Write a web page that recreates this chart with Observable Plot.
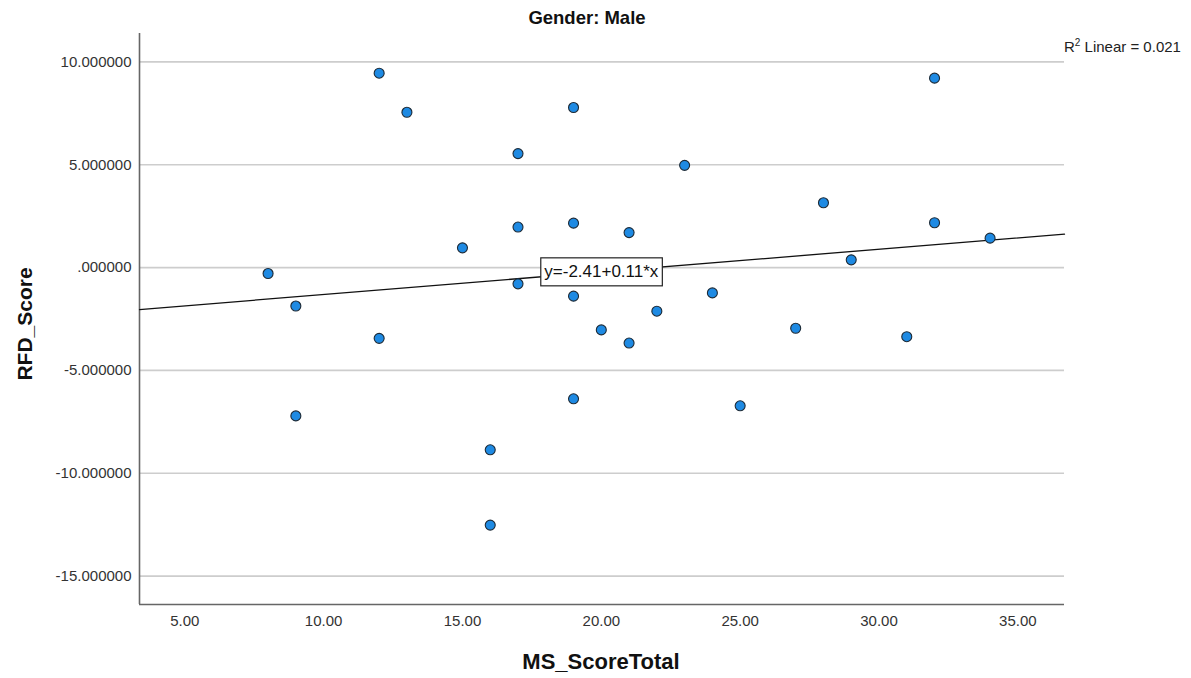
<!DOCTYPE html>
<html>
<head>
<meta charset="utf-8">
<script src="https://cdn.jsdelivr.net/npm/d3@7"></script>
<script src="https://cdn.jsdelivr.net/npm/@observablehq/plot@0.6"></script>
<style>
  body { margin: 0; background: #fff; }
  #chart svg { display: block; }
</style>
</head>
<body>
<div id="chart"></div>
<script>
// ---- Data ----
const msScore  = [8, 9, 9, 12, 12, 13, 15, 16, 16, 17, 17, 17, 19, 19, 19, 19, 20, 21, 21, 22, 23, 24, 25, 27, 28, 29, 31, 32, 32, 34];
const rfdScore = [-0.29, -1.87, -7.21, 9.45, -3.44, 7.55, 0.96, -8.86, -12.52, 5.54, 1.97, -0.79, 7.78, 2.16, -1.39, -6.38, -3.03, 1.70, -3.67, -2.12, 4.97, -1.23, -6.72, -2.95, 3.15, 0.375, -3.36, 9.21, 2.18, 1.43];
const xTicks = [5, 10, 15, 20, 25, 30, 35];
const yTicks = [-15, -10, -5, 0, 5, 10];
const xDomain = [3.37, 36.68];
const yDomain = [-16.38, 11.38];
const fitIntercept = -2.41;
const fitSlope = 0.11;
const fitLabelX = 20;
const r2Value = "0.021";

const points = msScore.map((x, i) => ({x, y: rfdScore[i]}));
const fitLine = xDomain.map(x => ({x, y: fitIntercept + fitSlope * x}));
const fitLabel = [{x: fitLabelX, y: fitIntercept + fitSlope * fitLabelX, text: `y=${fitIntercept}+${fitSlope}*x`}];

const FONT = "'Liberation Sans', Arial, Helvetica, sans-serif";

const chart = Plot.plot({
  width: 1191,
  height: 678,
  marginLeft: 139,
  marginRight: 127,
  marginTop: 33,
  marginBottom: 74,
  style: {fontFamily: FONT, fontSize: "15px", color: "#333", background: "#fff"},
  x: {domain: xDomain, ticks: xTicks, tickFormat: d => d.toFixed(2), tickSize: 0, tickPadding: 11, label: null},
  y: {domain: yDomain, ticks: yTicks, tickFormat: d => d === 0 ? ".000000" : d.toFixed(6), tickSize: 0, tickPadding: 8, label: null},
  marks: [
    Plot.ruleY(yTicks, {stroke: "#cdcdcd", strokeWidth: 1.6}),
    Plot.ruleX([xDomain[0]], {stroke: "#666", strokeWidth: 1.6}),
    Plot.ruleY([yDomain[0]], {stroke: "#666", strokeWidth: 1.6}),
    Plot.line(fitLine, {x: "x", y: "y", stroke: "#111", strokeWidth: 1.3}),
    Plot.dot(points, {x: "x", y: "y", r: 5, fill: "#1e8ae3", stroke: "#1d2a36", strokeWidth: 1.1}),
    Plot.text(fitLabel, {x: "x", y: "y", text: "text", fontSize: 17, fill: "#111"})
  ]
});

document.getElementById("chart").appendChild(chart);

const svg = d3.select(chart);

// white box behind the equation label
svg.selectAll('g[aria-label="text"] text').each(function() {
  const bb = this.getBBox();
  const t = this.getAttribute("transform");
  const r = d3.select(this.parentNode).insert("rect", () => this)
    .attr("x", bb.x - 3.5).attr("y", bb.y - 4.5)
    .attr("width", bb.width + 7).attr("height", bb.height + 9)
    .attr("fill", "#fff").attr("stroke", "#222").attr("stroke-width", 1.2);
  if (t) r.attr("transform", t);
});

// Title
svg.append("text")
  .attr("x", 587).attr("y", 24)
  .attr("text-anchor", "middle")
  .attr("font-family", FONT).attr("font-size", 18.5).attr("font-weight", "bold").attr("fill", "#111")
  .text("Gender: Male");

// R² label
const r2 = svg.append("text")
  .attr("x", 1064).attr("y", 52)
  .attr("text-anchor", "start")
  .attr("font-family", FONT).attr("font-size", 15).attr("fill", "#222");
r2.append("tspan").text("R");
r2.append("tspan").attr("font-size", 10).attr("dy", -6).text("2");
r2.append("tspan").attr("dy", 6).text(` Linear = ${r2Value}`);

// Axis titles
svg.append("text")
  .attr("x", 601).attr("y", 669)
  .attr("text-anchor", "middle")
  .attr("font-family", FONT).attr("font-size", 22).attr("font-weight", "bold").attr("fill", "#111")
  .text("MS_ScoreTotal");

svg.append("text")
  .attr("transform", "translate(32,324) rotate(-90)")
  .attr("text-anchor", "middle")
  .attr("font-family", FONT).attr("font-size", 21).attr("font-weight", "bold").attr("fill", "#111")
  .text("RFD_Score");
</script>
</body>
</html>
